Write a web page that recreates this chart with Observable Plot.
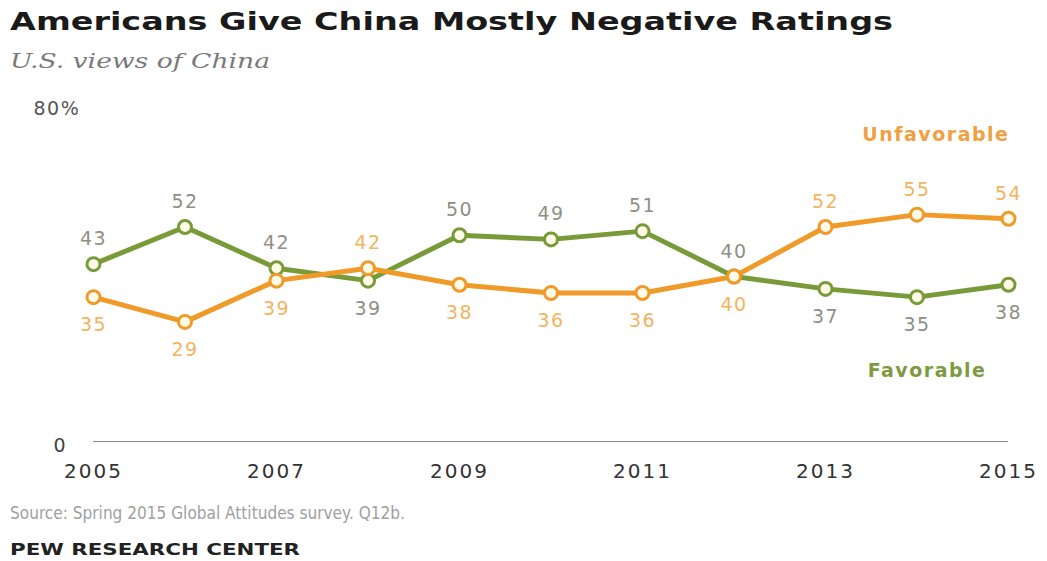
<!DOCTYPE html>
<html>
<head>
<meta charset="utf-8">
<script src="https://cdn.jsdelivr.net/npm/d3@7"></script>
<script src="https://cdn.jsdelivr.net/npm/@observablehq/plot@0.6"></script>
<style>
  html, body { margin: 0; padding: 0; background: #fff; }
  #wrap { width: 1047px; height: 561px; position: relative; overflow: hidden; }
  .t { position: absolute; left: 10px; white-space: nowrap; line-height: 1; display: inline-block; transform-origin: 0 0; }
  .title { top: 7px; font: bold 25px "DejaVu Sans", sans-serif; color: #1a1a1a; }
  .subtitle { top: 49px; font: italic 20px "DejaVu Serif", serif; color: #7a7a7a; }
  #chart { position: absolute; left: 0; top: 90px; }
  .source { top: 503px; font: 17px "DejaVu Sans", sans-serif; color: #a0a0a0; }
  .pew { top: 540px; font: bold 16px "DejaVu Sans", sans-serif; color: #222; }
</style>
</head>
<body>
<div id="wrap">
  <div class="t title" data-w="883">Americans Give China Mostly Negative Ratings</div>
  <div class="t subtitle" data-w="260">U.S. views of China</div>
  <div id="chart"></div>
  <div class="t source" data-w="395">Source: Spring 2015 Global Attitudes survey. Q12b.</div>
  <div class="t pew" data-w="290">PEW RESEARCH CENTER</div>
</div>
<script>
const years = [2005, 2006, 2007, 2008, 2009, 2010, 2011, 2012, 2013, 2014, 2015];
const favorable = [43, 52, 42, 39, 50, 49, 51, 40, 37, 35, 38];
const unfavorable = [35, 29, 39, 42, 38, 36, 36, 40, 52, 55, 54];
const yearTicks = [2005, 2007, 2009, 2011, 2013, 2015];
const yTicks = [0, 80];
const yTickLabels = ["0", "80%"];

const GREEN = "#789a38";
const ORANGE = "#f09a2a";

const rows = [];
years.forEach((yr, i) => {
  const f = favorable[i], u = unfavorable[i];
  rows.push({year: yr, value: f, series: "Favorable", above: f >= u});
  rows.push({year: yr, value: u, series: "Unfavorable", above: u > f});
});
const fav = rows.filter(d => d.series === "Favorable");
const unf = rows.filter(d => d.series === "Unfavorable");

const numFont = {fontFamily: "DejaVu Sans, sans-serif", fontSize: 19};

const chart = Plot.plot({
  width: 1047,
  height: 400,
  marginLeft: 93,
  marginRight: 39,
  marginTop: 21,
  marginBottom: 49,
  x: {domain: [2005, 2015]},
  y: {domain: [0, 80], axis: null},
  style: {background: "transparent"},
  marks: [
    Plot.ruleY([0], {stroke: "#8a8a8a", strokeWidth: 1.2}),
    Plot.axisX({ticks: yearTicks, tickFormat: d => String(d), tickSize: 0, tickPadding: 22,
      fontFamily: "DejaVu Sans, sans-serif", fontSize: 20, fill: "#333", label: null}),
    Plot.text([yTicks[0]], {x: () => 2005, y: d => d, text: () => yTickLabels[0], textAnchor: "start",
      dx: -40, dy: 4, fontFamily: "DejaVu Sans, sans-serif", fontSize: 19, fill: "#444"}),
    Plot.text([yTicks[1]], {x: () => 2005, y: d => d, text: () => yTickLabels[1], textAnchor: "start",
      dx: -60, dy: -3, fontFamily: "DejaVu Sans, sans-serif", fontSize: 19, fill: "#555"}),
    Plot.line(fav, {x: "year", y: "value", stroke: GREEN, strokeWidth: 5}),
    Plot.line(unf, {x: "year", y: "value", stroke: ORANGE, strokeWidth: 5}),
    Plot.dot(fav, {x: "year", y: "value", r: 6.5, fill: "#fffbe6", stroke: GREEN, strokeWidth: 3}),
    Plot.dot(unf, {x: "year", y: "value", r: 6.5, fill: "#fffbe6", stroke: ORANGE, strokeWidth: 3}),
    Plot.text(fav.filter(d => d.above), {x: "year", y: "value", text: d => String(d.value), dy: -25, fill: "#8f8f86", ...numFont}),
    Plot.text(fav.filter(d => !d.above), {x: "year", y: "value", text: d => String(d.value), dy: 28, fill: "#8f8f86", ...numFont}),
    Plot.text(unf.filter(d => d.above), {x: "year", y: "value", text: d => String(d.value), dy: -25, fill: "#f2b45e", ...numFont}),
    Plot.text(unf.filter(d => !d.above), {x: "year", y: "value", text: d => String(d.value), dy: 28, fill: "#f2b45e", ...numFont}),
    Plot.text(["Unfavorable"], {x: () => 2015, y: () => 74.4, text: d => d, textAnchor: "end", dx: 1,
      fontFamily: "DejaVu Sans, sans-serif", fontWeight: "bold", fontSize: 19, fill: "#f0a040"}),
    Plot.text(["Favorable"], {x: () => 2015, y: () => 17.2, text: d => d, textAnchor: "end", dx: -22,
      fontFamily: "DejaVu Sans, sans-serif", fontWeight: "bold", fontSize: 19, fill: "#7d9a42"})
  ]
});
document.getElementById("chart").appendChild(chart);

// widen SVG texts a little, like the reference's stretched glyphs
d3.select(chart).selectAll('g[aria-label="x-axis tick label"] text').style("letter-spacing", "2px");
d3.select(chart).selectAll('g[aria-label="text"] text').style("letter-spacing", "1.5px");

// stretch HTML texts horizontally to the reference widths
document.querySelectorAll(".t").forEach(el => {
  const w = el.getBoundingClientRect().width;
  const target = +el.dataset.w;
  el.style.transform = `scaleX(${target / w})`;
});
</script>
</body>
</html>
